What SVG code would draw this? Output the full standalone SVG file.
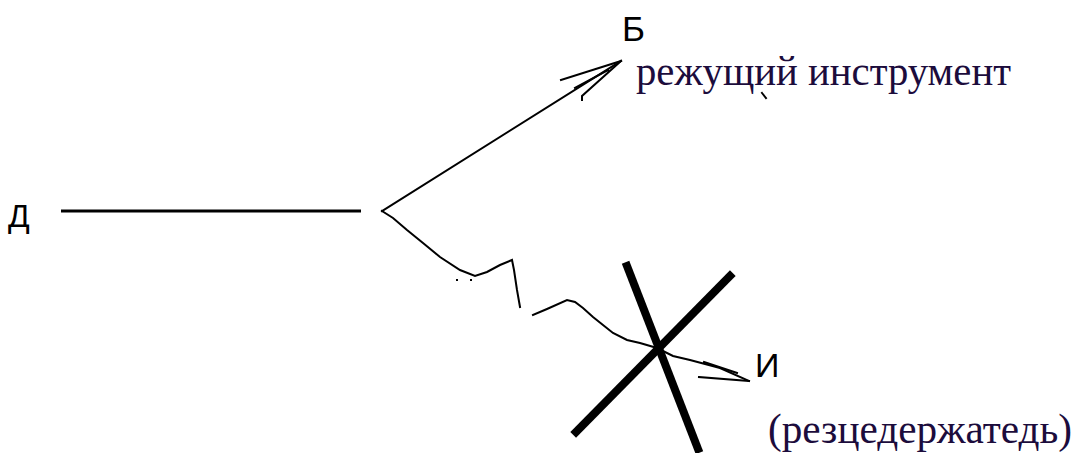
<svg xmlns="http://www.w3.org/2000/svg" width="1080" height="453" viewBox="0 0 1080 453">
<style>
.lbl{font-family:"Liberation Sans","DejaVu Sans",sans-serif;fill:#000}
.cap{font-family:"Liberation Serif","DejaVu Serif",serif;fill:#1c0c3c}
.ln{fill:none;stroke:#000;stroke-width:2;stroke-linejoin:miter;stroke-linecap:square}
.thick{fill:none;stroke:#000;stroke-width:8;stroke-linecap:square}
</style>
<rect width="1080" height="453" fill="#fff"/>
<g id="node-D"><text class="lbl" x="8" y="227" font-size="32">Д</text></g>
<g id="node-B"><text class="lbl" x="622" y="41" font-size="35">Б</text>
<text class="cap" x="636" y="85" font-size="42" textLength="375" lengthAdjust="spacingAndGlyphs">режущий инструмент</text>
<path class="ln" d="M762,93 L766,98"/></g>
<g id="node-I"><text class="lbl" x="755" y="377" font-size="34">И</text>
<text class="cap" x="768" y="443" font-size="42" textLength="304" lengthAdjust="spacingAndGlyphs">(резцедержатедь)</text></g>
<g id="node-X">
<line class="thick" x1="627" y1="266" x2="698" y2="449"/>
<line class="thick" x1="730" y1="276" x2="576" y2="432"/>
</g>
<g id="connectors">
<line x1="61" y1="211" x2="361" y2="211" stroke="#000" stroke-width="3"/>
<path class="ln" d="M382,211 L621,61"/>
<path class="ln" d="M561,80 L621,61 M582,100 L582,96 L621,61 M575,88 L608,70"/>
<path class="ln" d="M382,211 L393,218 L407,230 L423,243 L440,257 L460,270 L475,276 L487,272 L500,265 L512,260 L514,270 L517,290 L520,307"/>
<path class="ln" d="M533,315 L547,309 L567,300 L575,302 L583,308 L593,317 L603,325 L613,333 L627,340 L640,343 L657,348 L673,356 L690,360 L720,368 L749,381"/>
<path class="ln" d="M699,377 L749,381 M704,362 L737,373"/>
<rect x="456" y="279" width="2" height="2"/>
<rect x="470" y="279" width="2" height="2"/>
</g>
</svg>
